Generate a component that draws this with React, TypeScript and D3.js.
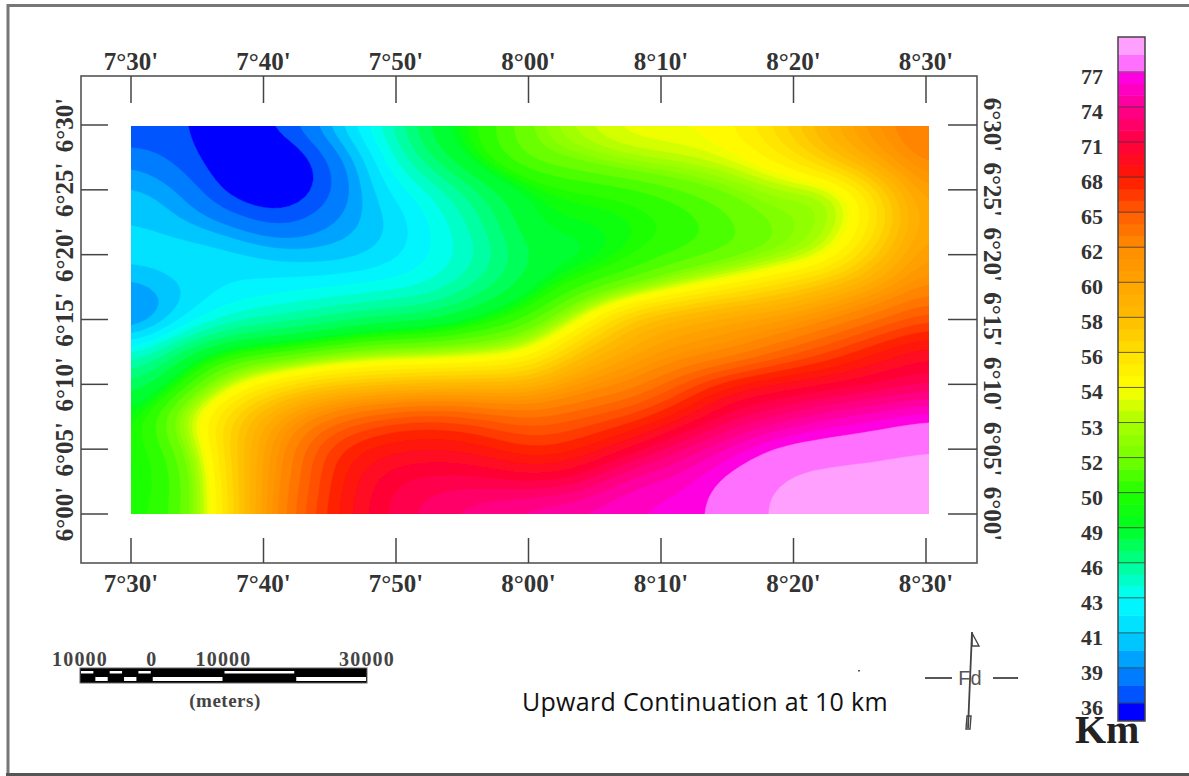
import React from "react";
import * as d3 from "d3";

const width = 1189;
const height = 776;

// longitude / latitude ticks
const lonValues = [450, 460, 470, 480, 490, 500, 510]; // minutes
const lonLabels = ["7°30'", "7°40'", "7°50'", "8°00'", "8°10'", "8°20'", "8°30'"];
const latValues = [360, 365, 370, 375, 380, 385, 390]; // minutes
const latLabels = ["6°00'", "6°05'", "6°10'", "6°15'", "6°20'", "6°25'", "6°30'"];

// colour bar
const levels = [36, 39, 41, 43, 46, 49, 50, 52, 53, 54, 56, 58, 60, 62, 65, 68, 71, 74, 77];
const levelColors = [
  "#0040ff", "#0090ff", "#00d8ff", "#00ffff", "#00ff90", "#00ff20", "#20ff00", "#78ff00", "#a8ff00", "#ffff00",
  "#ffe000", "#ffbc00", "#ffa400", "#ff8c00", "#ff5c00", "#ff1800", "#ff0040", "#ff0090", "#ff00f0",
];

// depth in km, north to south, west to east
const depthRows = [
  [35.8, 36.3, 35.0, 36.6, 40.5, 44.0, 48.5, 50.0, 52.0, 53.3, 53.9, 54.0, 54.5, 56.5, 59.0, 61.5, 63.5],
  [38.7, 36.8, 34.5, 33.5, 37.8, 42.6, 47.0, 49.8, 51.5, 52.2, 53.0, 53.3, 53.8, 55.0, 57.5, 60.0, 62.8],
  [40.3, 39.1, 35.2, 34.0, 37.2, 41.6, 44.0, 47.2, 49.3, 49.9, 50.3, 51.2, 52.0, 52.9, 53.0, 56.5, 61.0],
  [41.0, 40.2, 38.8, 37.0, 39.0, 40.7, 43.0, 45.8, 49.0, 49.3, 49.6, 50.2, 51.2, 52.2, 52.8, 55.8, 60.5],
  [41.6, 41.8, 41.5, 40.7, 40.5, 41.3, 43.0, 45.0, 48.2, 48.7, 49.9, 50.8, 51.5, 52.4, 53.8, 57.5, 61.0],
  [39.2, 41.0, 42.0, 42.5, 43.0, 43.5, 44.2, 46.5, 48.8, 50.7, 52.0, 53.6, 55.0, 56.5, 58.0, 60.0, 62.5],
  [38.0, 41.8, 44.5, 45.5, 46.5, 47.5, 48.0, 49.5, 51.0, 53.8, 57.5, 59.0, 60.0, 60.5, 62.0, 64.0, 66.0],
  [43.5, 47.5, 50.0, 50.7, 51.8, 52.6, 52.8, 53.2, 54.0, 57.5, 59.5, 61.0, 61.8, 64.0, 66.0, 68.2, 69.7],
  [47.0, 50.0, 53.5, 55.5, 57.0, 57.5, 58.0, 58.2, 58.5, 60.8, 62.3, 65.0, 68.0, 69.3, 70.1, 71.0, 72.0],
  [49.0, 52.8, 56.5, 60.0, 63.0, 65.0, 65.8, 65.0, 64.0, 65.0, 66.2, 68.5, 71.5, 73.0, 74.8, 75.8, 76.9],
  [49.3, 51.5, 56.8, 61.5, 66.5, 68.5, 69.0, 68.5, 67.0, 67.9, 70.2, 73.0, 75.2, 77.7, 78.2, 78.6, 79.0],
  [49.5, 50.8, 56.5, 62.0, 67.0, 70.5, 71.5, 71.5, 70.9, 71.7, 74.7, 75.5, 77.7, 79.0, 79.5, 79.6, 79.7],
  [49.7, 51.0, 56.2, 62.5, 67.5, 70.8, 72.5, 73.8, 74.8, 75.5, 76.0, 76.5, 77.6, 79.5, 80.0, 80.0, 80.0],
];

// scale bar
const barStops = [-10000, -8000, -6000, -4000, -2000, 0, 10000, 20000, 30000];
const barTicks = [-10000, 0, 10000, 30000];

const plotX = d3.scaleLinear().domain([450, 510]).range([131, 926]);
const plotY = d3.scaleLinear().domain([360, 390]).range([514, 125]);
const barX = d3.scaleLinear().domain([-10000, 30000]).range([80, 367]);

const levelColor = d3.scaleLinear<string>().domain(levels).range(levelColors).interpolate(d3.interpolateRgb);

// each labelled interval is cut into sub-bands: two in the blues, three above
const subBands = (lo: number, hi: number) => {
  const n = lo < 43 ? 2 : 3;
  return d3.range(n).map((k) => lo + (k * (hi - lo)) / n);
};
const thresholds: number[] = levels.slice(0, -1).flatMap((lo, i) => subBands(lo, levels[i + 1]));
thresholds.push(77, 79);

const bandColor = (t: number) => {
  if (t >= 79) return "#ffa0ff";
  if (t >= 77) return "#ff70ff";
  const i = thresholds.indexOf(t);
  return levelColor((t + thresholds[i + 1]) / 2);
};

// Catmull-Rom resampling of the read grid so the contours come out round
const cubic = (a: number, b: number, c: number, d: number, t: number) =>
  0.5 * (2 * b + (c - a) * t + (2 * a - 5 * b + 4 * c - d) * t * t + (3 * b - a - 3 * c + d) * t * t * t);

const resample = (rows: number[][], k: number) => {
  const nr = rows.length;
  const nc = rows[0].length;
  const w = (nc - 1) * k + 1;
  const h = (nr - 1) * k + 1;
  const at = (r: number, c: number) => rows[Math.max(0, Math.min(nr - 1, r))][Math.max(0, Math.min(nc - 1, c))];
  const out = new Array(w * h);
  for (let j = 0; j < h; j++) {
    const r = Math.min(nr - 2, Math.floor(j / k));
    const v = j / k - r;
    for (let i = 0; i < w; i++) {
      const c = Math.min(nc - 2, Math.floor(i / k));
      const u = i / k - c;
      const col = [-1, 0, 1, 2].map((dr) =>
        cubic(at(r + dr, c - 1), at(r + dr, c), at(r + dr, c + 1), at(r + dr, c + 2), u)
      );
      out[j * w + i] = cubic(col[0], col[1], col[2], col[3], v);
    }
  }
  return { values: out, w, h };
};

const mapLeft = 131;
const mapRight = 929;
const mapTop = 126;
const mapBottom = 514;

const Map = () => {
  const { values, w, h } = resample(depthRows, 6);
  // soften the kinks left by the coarse grid
  d3.blur2({ data: values, width: w, height: h }, 2);
  const sx = d3.scaleLinear().domain([0.5, w - 0.5]).range([mapLeft, mapRight]);
  const sy = d3.scaleLinear().domain([0.5, h - 0.5]).range([mapTop, mapBottom]);
  const project = d3.geoTransform({
    point(x, y) {
      this.stream.point(sx(x), sy(y));
    },
  });
  const path = d3.geoPath(project);
  const bands = d3.contours().size([w, h]).thresholds(thresholds)(values);
  return (
    <g clipPath="url(#mapClip)">
      <g filter="url(#soft)">
        <rect x={mapLeft} y={mapTop} width={mapRight - mapLeft} height={mapBottom - mapTop} fill="#0000ff" />
        {bands.map((b) => (
          <path key={b.value} d={path(b) || ""} fill={bandColor(b.value)} stroke={bandColor(b.value)} strokeWidth={0.4} />
        ))}
      </g>
    </g>
  );
};

const ColorBar = () => {
  const step = 35.06;
  const levelY = d3.scaleLinear().domain([0, 18]).range([703, 703 - 18 * step]);
  const cells = levels.slice(0, -1).flatMap((lo, i) => {
    const hi = levels[i + 1];
    const subs = subBands(lo, hi);
    return subs.map((t) => ({
      y: levelY(i) - ((t - lo) / (hi - lo)) * step - step / subs.length,
      h: step / subs.length + 0.5,
      fill: bandColor(t),
    }));
  });
  return (
    <g>
      <rect x={1118} y={levelY(0)} width={27} height={721 - levelY(0)} fill="#0000ff" />
      {cells.map((c, i) => (
        <rect key={i} x={1118} y={c.y} width={27} height={c.h} fill={c.fill} />
      ))}
      <rect x={1118} y={37} width={27} height={levelY(18) - 37 + 0.5} fill="#ff70ff" />
      <rect x={1118} y={37} width={27} height={18} fill="#ffa0ff" />
      {levels.map((v, i) => (
        <g key={v}>
          <line x1={1118} x2={1145} y1={levelY(i)} y2={levelY(i)} stroke="#333" strokeWidth={1} opacity={0.75} />
          <text
            x={1103}
            y={levelY(i) + 12}
            textAnchor="end"
            fontFamily="Liberation Serif"
            fontWeight="bold"
            fontSize={22}
            fill="#333"
          >
            {v}
          </text>
        </g>
      ))}
      <rect x={1118} y={37} width={27} height={684} fill="none" stroke="#444" strokeWidth={1.5} />
      <text x={1075} y={743} fontFamily="Liberation Serif" fontWeight="bold" fontSize={40} fill="#222">
        Km
      </text>
    </g>
  );
};

const ScaleBar = () => {
  const y = 668;
  const h = 15;
  return (
    <g fontFamily="Liberation Serif" fontWeight="bold" fill="#444">
      <rect x={barX(-10000)} y={y} width={barX(30000) - barX(-10000)} height={h} fill="#000" stroke="#666" />
      {barStops.slice(0, -1).map((s, i) => (
        <rect
          key={s}
          x={barX(s) + 1}
          y={i % 2 === 0 ? y + 3 : y + 9}
          width={barX(barStops[i + 1]) - barX(s) - 2}
          height={i % 2 === 0 ? 2.5 : 4}
          fill="#fff"
        />
      ))}
      {barTicks.map((t) => (
        <text key={t} x={barX(t)} y={666} textAnchor="middle" fontSize={20} letterSpacing={1.2}>
          {Math.abs(t)}
        </text>
      ))}
      <text x={225} y={707} textAnchor="middle" fontSize={19} letterSpacing={0.5}>
        (meters)
      </text>
    </g>
  );
};

const NorthArrow = () => (
  <g stroke="#444" fill="none">
    <line x1={972} y1={632} x2={968} y2={728} strokeWidth={1.8} />
    <path d="M972,633 L979,646 L972,646 Z" strokeWidth={1.4} />
    <path d="M967,716 L971,716 L970,729 L966,729 Z" strokeWidth={1.4} />
    <line x1={925} x2={952} y1={678} y2={678} strokeWidth={1.8} />
    <line x1={993} x2={1018} y1={678} y2={678} strokeWidth={1.8} />
    <text x={970} y={685} textAnchor="middle" fontFamily="Liberation Sans" fontSize={20} fill="#555" stroke="none">
      Fd
    </text>
  </g>
);

export default function App() {
  const labelProps = {
    fontFamily: "Liberation Serif",
    fontWeight: "bold" as const,
    fontSize: 25,
    fill: "#333",
  };
  return (
    <svg width={width} height={height} style={{ position: "absolute", left: 0, top: 0, background: "#fff" }}>
      <defs>
        <clipPath id="mapClip">
          <rect x={mapLeft} y={mapTop} width={mapRight - mapLeft} height={mapBottom - mapTop} />
        </clipPath>
        <filter id="soft" x="-1%" y="-1%" width="102%" height="102%">
          <feGaussianBlur stdDeviation={0.6} />
        </filter>
      </defs>

      {/* page border, runs off the right edge */}
      <path d="M1189,5.5 H8 V774" fill="none" stroke="#777" strokeWidth={3} />
      <line x1={6} x2={1189} y1={774.5} y2={774.5} stroke="#555" strokeWidth={3} />

      <Map />

      <rect x={81} y={76} width={896} height={487} fill="none" stroke="#555" strokeWidth={1.6} />

      {lonValues.map((v, i) => (
        <g key={v}>
          <line x1={plotX(v)} x2={plotX(v)} y1={76} y2={103} stroke="#444" strokeWidth={1.5} />
          <line x1={plotX(v)} x2={plotX(v)} y1={538} y2={563} stroke="#444" strokeWidth={1.5} />
          <text {...labelProps} x={plotX(v)} y={70} textAnchor="middle">
            {lonLabels[i]}
          </text>
          <text {...labelProps} x={plotX(v)} y={592} textAnchor="middle">
            {lonLabels[i]}
          </text>
        </g>
      ))}

      {latValues.map((v, i) => (
        <g key={v}>
          <line x1={81} x2={108} y1={plotY(v)} y2={plotY(v)} stroke="#444" strokeWidth={1.5} />
          <line x1={948} x2={977} y1={plotY(v)} y2={plotY(v)} stroke="#444" strokeWidth={1.5} />
          <text {...labelProps} transform={`translate(73,${plotY(v)}) rotate(-90)`} textAnchor="middle">
            {latLabels[i]}
          </text>
          <text {...labelProps} transform={`translate(984,${plotY(v)}) rotate(90)`} textAnchor="middle">
            {latLabels[i]}
          </text>
        </g>
      ))}

      <ColorBar />
      <ScaleBar />
      <NorthArrow />
      <rect x={858} y={670} width={2} height={1.5} fill="#555" />

      <text x={522} y={711} fontFamily="Open Sans" fontSize={25} letterSpacing={0.3} fill="#111">
        Upward Continuation at 10 km
      </text>
    </svg>
  );
}
